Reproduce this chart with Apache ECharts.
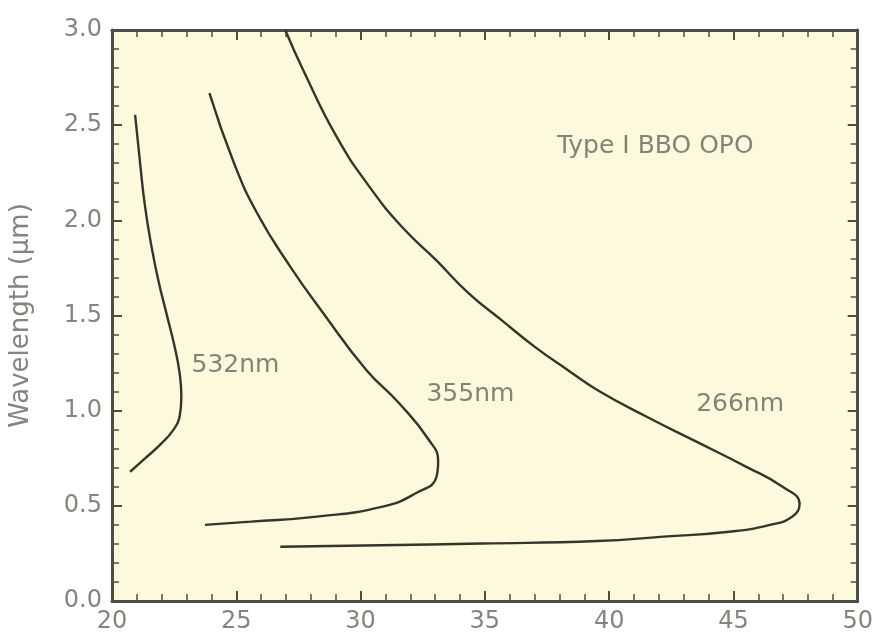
<!DOCTYPE html>
<html>
<head>
<meta charset="utf-8">
<script src="https://cdn.jsdelivr.net/npm/echarts@6/dist/echarts.min.js"></script>
<style>html,body{margin:0;padding:0;background:#fff}#c{width:876px;height:641px}</style>
</head>
<body>
<div id="c"></div>
<script>
// ---- data ----
const xTicks = [20, 25, 30, 35, 40, 45, 50];
const yTicks = [0.0, 0.5, 1.0, 1.5, 2.0, 2.5, 3.0];
const yTitle = 'Wavelength (μm)';
const chartNote = 'Type I BBO OPO';

const s532Name = '532nm';
const s532X = [20.93, 21.13, 21.33, 21.59, 21.86, 22.19, 22.52, 22.72, 22.79, 22.72, 22.46, 21.99, 21.33, 20.73];
const s532Y = [2.554, 2.30, 2.072, 1.862, 1.687, 1.511, 1.336, 1.197, 1.074, 0.968, 0.898, 0.828, 0.749, 0.679];

const s355Name = '355nm';
const s355X = [23.92, 24.91, 25.84, 27.17, 28.50, 30.23, 31.55, 32.75, 33.12, 33.05, 32.22, 30.89, 28.24, 25.58, 23.74];
const s355Y = [2.668, 2.300, 2.037, 1.757, 1.512, 1.214, 1.039, 0.846, 0.735, 0.650, 0.566, 0.496, 0.443, 0.417, 0.400];

const s266Name = '266nm';
const s266X = [26.97, 27.69, 29.04, 30.36, 31.67, 33.03, 34.34, 35.66, 37.01, 38.33, 39.52, 41.51, 43.51, 45.50, 46.96, 47.66, 47.36, 46.43, 44.83, 42.18, 39.52, 34.87, 30.80, 26.77];
const s266Y = [3.0, 2.79, 2.438, 2.176, 1.965, 1.792, 1.618, 1.477, 1.335, 1.214, 1.109, 0.968, 0.837, 0.706, 0.601, 0.510, 0.443, 0.399, 0.364, 0.338, 0.315, 0.302, 0.293, 0.285];

// curve label anchor positions (data coords)
const labelX = [23.2, 32.65, 43.5];
const labelY = [1.235, 1.083, 1.035];
const notePos = [37.9, 2.39];

// ---- build ----
function pairs(xs, ys){ return xs.map((x,i)=>[x, ys[i]]); }
const lineColor = '#36352a';
const axisColor = '#4f4e45';
const tickTxt = '#85847e';
const noteTxt = '#66655e';
const fontFam = 'DejaVu Sans, sans-serif';

function lineSeries(name, xs, ys){
  return { name, type:'line', data:pairs(xs,ys), smooth:0.5, showSymbol:false, symbol:'none',
    lineStyle:{color:lineColor, width:2.4}, silent:true, z:3 };
}
const names = [s532Name, s355Name, s266Name];
const labelSeries = {
  type:'scatter', symbolSize:0, silent:true, z:4,
  data: names.map((n,i)=>({value:[labelX[i], labelY[i]], name:n})),
  label:{show:true, position:'right', distance:0, formatter:p=>p.name,
    color:noteTxt, fontSize:25, fontFamily:fontFam, letterSpacing:-1}
};
const noteSeries = {
  type:'scatter', symbolSize:0, silent:true, z:4,
  data:[{value:notePos, name:chartNote}],
  label:{show:true, position:'right', distance:0, formatter:p=>p.name,
    color:noteTxt, fontSize:25, fontFamily:fontFam, letterSpacing:0}
};

function xAx(pos, showLabel){
  return { type:'value', position:pos, min:xTicks[0], max:xTicks[xTicks.length-1], interval:5,
    axisLine:{show:true, onZero:false, lineStyle:{color:axisColor, width:3}},
    axisTick:{show:true, inside:true, length:10, lineStyle:{color:axisColor, width:2}},
    minorTick:{show:true, splitNumber:5, length:7, lineStyle:{color:axisColor, width:1.5}},
    splitLine:{show:false},
    axisLabel:{show:showLabel, color:tickTxt, fontSize:24, fontFamily:fontFam, margin:9}
  };
}
function yAx(pos, showLabel){
  return { type:'value', position:pos, min:yTicks[0], max:yTicks[yTicks.length-1], interval:0.5,
    axisLine:{show:true, onZero:false, lineStyle:{color:axisColor, width:3}},
    axisTick:{show:true, inside:true, length:10, lineStyle:{color:axisColor, width:2}},
    minorTick:{show:true, splitNumber:5, length:7, lineStyle:{color:axisColor, width:1.5}},
    splitLine:{show:false},
    axisLabel:{show:showLabel, color:tickTxt, fontSize:24, fontFamily:fontFam, margin:10,
      formatter:v=>v.toFixed(1)},
    name: showLabel ? yTitle : '', nameLocation:'middle', nameGap:78, nameRotate:90,
    nameTextStyle:{color:tickTxt, fontSize:26, fontFamily:fontFam}
  };
}

const chart = echarts.init(document.getElementById('c'), null, {renderer:'canvas'});
chart.setOption({
  backgroundColor:'#ffffff',
  animation:false,
  grid:{left:110, right:13, top:30, bottom:40, show:true, backgroundColor:'#fdf9dc', borderWidth:0},
  xAxis:[xAx('bottom', true), xAx('top', false)],
  yAxis:[yAx('left', true), yAx('right', false)],
  series:[
    lineSeries(s532Name, s532X, s532Y),
    lineSeries(s355Name, s355X, s355Y),
    lineSeries(s266Name, s266X, s266Y),
    labelSeries, noteSeries
  ]
});
</script>
</body>
</html>
